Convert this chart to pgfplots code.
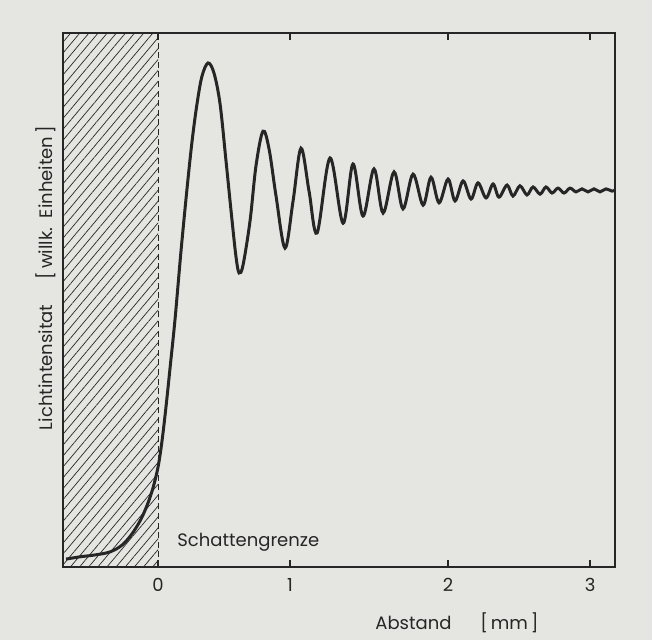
\documentclass[border=0pt]{standalone}
\usepackage{pgfplots}
\pgfplotsset{compat=1.18}
\usetikzlibrary{patterns.meta}
\usepackage{fontspec}
\setmainfont{Poppins}
\definecolor{paper}{RGB}{229,229,226}
\definecolor{ink}{RGB}{38,38,38}

\begin{document}
\fontsize{9}{11}\selectfont
\begin{tikzpicture}
% paper background, also fixes the page size
\fill[paper] (-31.5pt,-36.5pt) rectangle (294.5pt,283.5pt);
\begin{axis}[
  at={(0,0)}, anchor=south west,
  scale only axis, width=276pt, height=267pt,
  xmin=-0.72, xmax=3.462, ymin=0, ymax=1.4165,
  axis line style={ink, line width=0.6pt},
  xtick={0,1,2.197,3.273}, xticklabels={0,1,2,3},
  xtick pos=both, tick align=inside, major tick length=3.5pt,
  ytick=\empty,
  tick style={ink, line width=0.6pt},
  xticklabel style={text=ink, yshift=-2.5pt},
  clip=false,
]
% shadow region
\fill[pattern={Lines[angle=50,distance=3.5pt,line width=0.35pt]}, pattern color=ink]
  (axis cs:-0.72,0) rectangle (axis cs:0,1.4165);
\draw[ink, line width=0.5pt, dash pattern=on 3pt off 1.8pt] (axis cs:0,0) -- (axis cs:0,1.4165);

\addplot[ink, line width=1.5pt, smooth, tension=0.55] coordinates {
  (-0.697,0.021) (-0.591,0.027) (-0.477,0.032) (-0.364,0.040) (-0.273,0.058)
  (-0.197,0.088) (-0.129,0.127) (-0.076,0.170) (-0.038,0.210) (0.000,0.265)
  (0.030,0.334) (0.061,0.427) (0.091,0.528) (0.129,0.658) (0.174,0.838)
  (0.220,1.005) (0.258,1.130) (0.295,1.228) (0.333,1.302) (0.379,1.337)
  (0.424,1.310) (0.470,1.228) (0.515,1.077) (0.561,0.918) (0.591,0.822)
  (0.614,0.780) (0.644,0.801) (0.697,0.918) (0.742,1.064) (0.795,1.156)
  (0.841,1.109) (0.894,0.984) (0.962,0.846) (1.023,0.971) (1.083,1.111)
  (1.144,0.997) (1.205,0.886) (1.303,1.085) (1.402,0.912) (1.477,1.069)
  (1.553,0.931) (1.636,1.056) (1.705,0.939) (1.788,1.048) (1.856,0.950)
  (1.932,1.042) (2.008,0.960) (2.068,1.034) (2.129,0.966) (2.197,1.029)
  (2.250,0.971) (2.311,1.024) (2.371,0.976) (2.424,1.019) (2.485,0.979)
  (2.538,1.016) (2.583,0.981) (2.644,1.013) (2.689,0.984) (2.742,1.011)
  (2.795,0.987) (2.841,1.008) (2.894,0.989) (2.939,1.008) (2.985,0.992)
  (3.030,1.005) (3.076,0.992) (3.121,1.005) (3.167,0.995) (3.212,1.003)
  (3.258,0.995) (3.303,1.003) (3.348,0.995) (3.394,1.003) (3.439,0.997)
  (3.462,1.000)
};
\end{axis}
\node[ink, rotate=90] at (-8.5pt,144.5pt) {Lichtintensitat\hspace{1.4em}[\,willk.\ \ Einheiten\,]};
\node[ink] at (197pt,-28pt) {Abstand\hspace{1.6em}[\,mm\,]};
\node[ink, anchor=west] at (54pt,12.5pt) {Schattengrenze};
\end{tikzpicture}
\end{document}
